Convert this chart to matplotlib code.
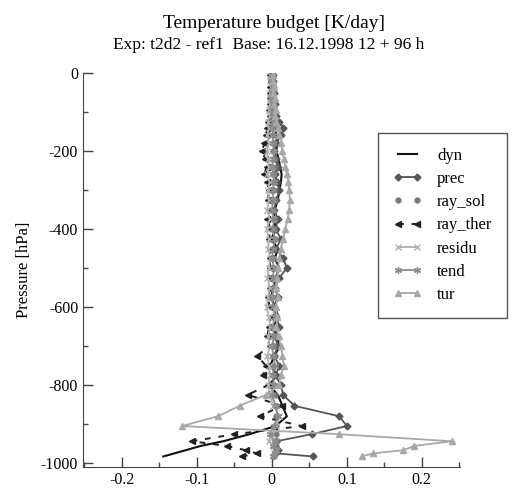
import matplotlib
matplotlib.use("Agg")
import matplotlib.pyplot as plt
from matplotlib.ticker import MultipleLocator

plt.rcParams["font.family"] = ["Liberation Serif", "DejaVu Serif"]

# pressure levels [hPa], drawn as negative values
pres = [-5, -20, -35, -50, -65, -80, -95, -110, -125, -140,
        -160, -180, -200, -220, -240, -260, -280, -300,
        -325, -350, -375, -400, -425, -450, -475, -500,
        -525, -550, -575, -600, -625, -650, -675, -700,
        -725, -750, -775, -800, -825, -853, -880, -905,
        -926, -944, -956, -967, -975, -983]

dyn = [0.002, 0.002, 0.003, 0.002, 0.003, 0.003, 0.004, 0.004, 0.005, 0.005,
       0.006, 0.007, 0.006, 0.009, 0.011, 0.013, 0.012, 0.010,
       0.008, 0.004, 0.002, 0.006, -0.001, 0.008, 0.004, 0.010,
       0.005, 0.002, -0.001, 0.004, 0.009, 0.002, 0.006, 0.011,
       0.003, -0.002, 0.007, -0.004, 0.008, 0.014, 0.020, 0.005,
       -0.030, -0.065, -0.095, -0.115, -0.130, -0.145]

prec = [0.001, 0.002, 0.001, 0.003, 0.002, 0.004, 0.003, 0.006, 0.010, 0.015,
        0.012, 0.006, 0.003, 0.005, 0.008, 0.004, 0.007, 0.010,
        0.006, 0.003, 0.008, 0.005, 0.012, 0.006, 0.015, 0.020,
        0.010, 0.004, 0.008, 0.002, 0.006, 0.010, 0.004, 0.008,
        0.003, 0.010, 0.005, 0.012, 0.015, 0.030, 0.090, 0.100,
        0.053, 0.006, 0.004, 0.008, 0.005, 0.055]

ray_sol = [0.000, 0.001, 0.000, 0.001, 0.002, 0.001, 0.002, 0.001, 0.002, 0.003,
           0.002, 0.003, 0.001, 0.003, 0.004, 0.002, 0.002, 0.003,
           0.004, 0.003, 0.001, 0.003, 0.004, 0.002, 0.002, 0.003,
           0.004, 0.003, 0.002, 0.001, 0.004, 0.003, 0.002, 0.003,
           0.004, 0.002, 0.002, 0.003, 0.004, 0.005, 0.006, 0.005,
           0.006, 0.007, 0.006, 0.005, 0.004, 0.003]

ray_ther = [-0.002, -0.001, -0.002, -0.003, -0.002, -0.003, -0.004, -0.003, -0.005, -0.006,
            -0.008, -0.010, -0.013, -0.009, -0.007, -0.010, -0.006, -0.004,
            -0.005, -0.003, -0.006, -0.002, -0.004, -0.001, -0.003, -0.002,
            -0.004, -0.002, -0.005, -0.003, -0.001, -0.004, -0.006, -0.003,
            -0.020, -0.008, -0.012, -0.005, -0.032, 0.013, -0.016, 0.040,
            -0.050, -0.107, -0.060, -0.035, -0.020, -0.040]

residu = [-0.002, -0.003, -0.001, -0.002, -0.003, -0.002, -0.004, -0.003, -0.005, -0.004,
          -0.006, -0.004, -0.007, -0.005, -0.004, -0.006, -0.003, -0.005,
          -0.004, -0.006, -0.003, -0.007, -0.004, -0.005, -0.002, -0.004,
          -0.006, -0.003, -0.005, -0.007, -0.004, -0.002, -0.005, -0.003,
          -0.006, -0.004, -0.002, -0.005, -0.003, 0.002, 0.010, 0.006,
          0.000, -0.004, 0.002, 0.006, 0.003, 0.001]

tend = [0.000, -0.001, 0.001, 0.000, -0.001, 0.001, 0.000, 0.002, 0.001, 0.000,
        0.002, 0.001, 0.003, 0.002, 0.000, 0.002, 0.003, 0.001,
        0.002, 0.000, 0.003, 0.001, 0.004, 0.002, 0.000, 0.003,
        0.001, 0.003, 0.000, 0.002, 0.004, 0.001, 0.003, 0.000,
        0.002, 0.004, 0.001, 0.003, 0.000, 0.005, 0.008, 0.003,
        -0.003, 0.004, 0.002, 0.006, 0.004, 0.002]

tur = [0.001, 0.002, 0.003, 0.002, 0.004, 0.003, 0.005, 0.004, 0.006, 0.008,
       0.010, 0.012, 0.014, 0.016, 0.018, 0.020, 0.022, 0.023,
       0.024, 0.023, 0.021, 0.018, 0.015, 0.012, 0.010, 0.008,
       0.007, 0.006, 0.008, 0.005, 0.007, 0.006, 0.009, 0.012,
       0.014, 0.016, 0.012, 0.010, -0.008, -0.043, -0.072, -0.120,
       0.090, 0.240, 0.190, 0.175, 0.135, 0.120]

fig = plt.figure(figsize=(5.12, 4.92), dpi=100)
ax = fig.add_axes([83/512, 25/492, 377/512, 394/492])

ax.plot(dyn, pres, color="#111111", lw=1.5, label="dyn")
ax.plot(prec, pres, color="#555555", lw=1.3, marker="D", ms=3.5, label="prec")
ax.plot(ray_sol, pres, color="#777777", ls="none", marker="o", ms=3.5, label="ray_sol")
ax.plot(ray_ther, pres, color="#222222", ls=(0, (3, 4)), lw=1.4, marker="<", ms=4, label="ray_ther")
ax.plot(residu, pres, color="#b0b0b0", lw=1.3, marker="x", ms=4, label="residu")
ax.plot(tend, pres, color="#8c8c8c", lw=1.3, marker=(6, 2, 0), ms=5, mew=1, label="tend")
ax.plot(tur, pres, color="#a8a8a8", lw=1.3, marker="^", ms=4, label="tur")

ax.set_xlim(-0.252, 0.251)
ax.set_ylim(-1010, 0)
ax.xaxis.set_minor_locator(MultipleLocator(0.05))
ax.yaxis.set_minor_locator(MultipleLocator(100))
ax.set_xticks([-0.2, -0.1, 0, 0.1, 0.2])
ax.set_xticklabels(["-0.2", "-0.1", "0", "0.1", "0.2"])
ax.set_yticks([0, -200, -400, -600, -800, -1000])
ax.set_yticklabels(["0", "-200", "-400", "-600", "-800", "-1000"])
ax.tick_params(which="major", direction="in", length=7, width=1, color="#444444", labelsize=11.5)
ax.tick_params(which="minor", direction="in", length=3.5, width=1, color="#444444")

for s in ["top", "right"]:
    ax.spines[s].set_visible(False)
for s in ["left", "bottom"]:
    ax.spines[s].set_color("#444444")

ax.set_ylabel("Pressure [hPa]", fontsize=12, labelpad=6)

fig.text(0.535, 0.953, "Temperature budget [K/day]", ha="center", va="center", fontsize=14)
fig.text(0.525, 0.908, "Exp: t2d2 - ref1  Base: 16.12.1998 12 + 96 h", ha="center", va="center", fontsize=12.5)

leg = ax.legend(loc="upper left", bbox_to_anchor=(0.782, 0.848), fontsize=12,
                numpoints=2, handlelength=1.75, handletextpad=0.9, labelspacing=0.43,
                borderpad=0.9, borderaxespad=0, fancybox=False, framealpha=1,
                edgecolor="#555555")
leg.get_frame().set_linewidth(1)

fig.savefig("out.png", dpi=100)
